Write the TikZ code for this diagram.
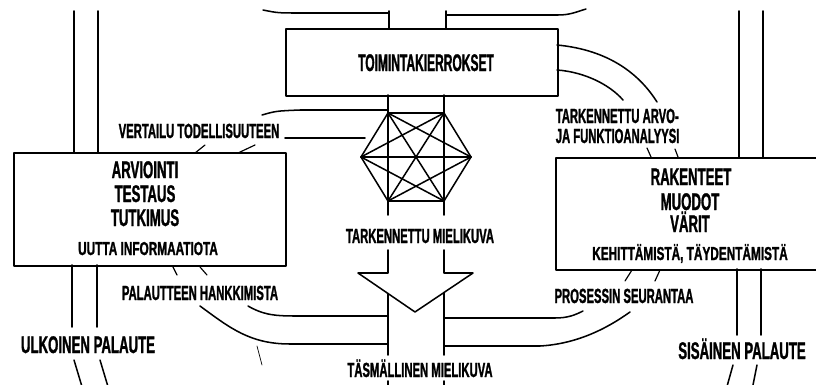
\documentclass[tikz,border=0pt]{standalone}
\usepackage{fontspec}
\newfontfamily\cond[FakeStretch=0.55,FakeBold=1.2]{Liberation Sans Bold}
\newfontfamily\condwide[FakeStretch=0.63,FakeBold=1.2]{Liberation Sans Bold}
\newfontfamily\condtight[FakeStretch=0.5,FakeBold=1.2]{Liberation Sans Bold}
\begin{document}
\begin{tikzpicture}[x=0.3mm,y=-0.3mm,
  line width=1.3pt, line join=round, line cap=round,
  box/.style={draw, rectangle, anchor=north west, inner sep=0pt},
  txtbase/.style={inner sep=0pt, anchor=base},
  bigtxt/.style={txtbase, font=\cond\fontsize{20.5}{24}\selectfont},
  titletxt/.style={txtbase, font=\condtight\fontsize{20.5}{24}\selectfont},
  lbltxt/.style={txtbase, font=\cond\fontsize{17.5}{21}\selectfont},
  smalltxt/.style={txtbase, font=\condwide\fontsize{16}{18}\selectfont},
  tick/.style={line width=1pt}]
\clip (0,0) rectangle (816,385);

% ---------------- boxes ----------------
\node[box, minimum width=272*0.3mm, minimum height=67*0.3mm]  (toim) at (285,28)  {};
\node[box, minimum width=272*0.3mm, minimum height=113*0.3mm] (arv)  at (13,152)  {};
\node[box, minimum width=290*0.3mm, minimum height=112*0.3mm] (rak)  at (555,157) {};

% ---------------- texts ----------------
\node[titletxt] (tToim) at (426,71) {TOIMINTAKIERROKSET};

\node[bigtxt] (tArv)  at (145,178) {ARVIOINTI};
\node[bigtxt] (tTest) at (145,202) {TESTAUS};
\node[bigtxt] (tTutk) at (145,226) {TUTKIMUS};
\node[smalltxt] (tUutta) at (148,255) {UUTTA INFORMAATIOTA};

\node[bigtxt] (tRak)  at (691,185) {RAKENTEET};
\node[bigtxt] (tMuo)  at (690,210) {MUODOT};
\node[bigtxt] (tVar)  at (690,232) {VÄRIT};
\node[smalltxt] (tKeh) at (690,260) {KEHITTÄMISTÄ, TÄYDENTÄMISTÄ};

\node[lbltxt] (tVert) at (199,138) {VERTAILU TODELLISUUTEEN};
\node[lbltxt] (tPal)  at (200,300) {PALAUTTEEN HANKKIMISTA};
\node[bigtxt] (tUlk)  at (88,353)  {ULKOINEN PALAUTE};

\node[lbltxt] (tTark) at (420,243) {TARKENNETTU MIELIKUVA};
\node[lbltxt] (tTasm) at (420,377) {TÄSMÄLLINEN MIELIKUVA};

\node[lbltxt, anchor=base west] (tArvo) at (555,123) {TARKENNETTU ARVO-};
\node[lbltxt, anchor=base west] (tFunk) at (555,143) {JA FUNKTIOANALYYSI};
\node[lbltxt] (tPros) at (624,303) {PROSESSIN SEURANTAA};
\node[bigtxt] (tSis)  at (742,359) {SISÄINEN PALAUTE};

% ---------------- outer feedback roads ----------------
% left (external feedback)
\draw (74,11) -- (74,152);  \draw (98,11) -- (98,152);
\draw (72,265) -- (72,327); \draw (97,265) -- (97,327);
\draw (74,360) -- (83,390); \draw (100,360) -- (109,390);
% right (internal feedback)
\draw (739,11) -- (739,157); \draw (763,11) -- (763,157);
\draw (737,269) -- (737,335); \draw (761,269) -- (761,335);
\draw (733,365) -- (726,390); \draw (757,365) -- (752,390);

% ---------------- central road ----------------
\draw (389,11) -- (389,28); \draw (446,11) -- (446,28);
\draw (263,10) .. controls (278,13) .. (300,13) -- (389,13);
\draw (446,15) -- (558,15) .. controls (570,15) and (576,12) .. (586,9);

\draw (388,95) -- (388,113); \draw (444,95) -- (444,113);

% hexagon with all its diagonals
\coordinate (h1) at (388,113);
\coordinate (h2) at (444,113);
\coordinate (h3) at (471,157);
\coordinate (h4) at (444,201);
\coordinate (h5) at (388,201);
\coordinate (h6) at (361,157);
\foreach \i in {1,...,6}{
  \foreach \j in {1,...,6}{
    \ifnum\i<\j \draw (h\i) -- (h\j); \fi
  }
}

\draw (388,201) -- (388,215); \draw (444,201) -- (444,215);

% big arrow
\coordinate (aTip) at (415,312);
\draw (388,250) -- (388,273) -- (358,273) -- (aTip) -- (473,273) -- (444,273) -- (444,250);
\draw (388,293.5) -- (388,355); \draw (444,292.5) -- (444,355);
\draw (388,381) -- (388,390); \draw (444,381) -- (444,390);

% ---------------- upper-left loop ----------------
\draw (262,115) .. controls (276,111) .. (300,110) -- (388,110);
\draw (285,138) -- (365,138);
\draw[tick] (195,153) -- (205,145);
\draw[tick] (238,153) -- (255,145);

% ---------------- lower-left loop ----------------
\draw[tick] (173,267) -- (177,275);
\draw[tick] (200,267) -- (207,275);
\draw (248,306) .. controls (262,314) and (272,316) .. (295,316) -- (388,316);
\draw (200,306) .. controls (230,328) and (250,344) .. (290,344) -- (388,344);
\draw[line width=0.6pt] (257,346) -- (262,365);

% ---------------- upper-right loop ----------------
\draw (557,45) .. controls (610,50) and (640,75) .. (657,102);
\draw (557,70) .. controls (585,72) and (610,85) .. (623,100);
\draw[tick] (647,148) -- (651,157);
\draw[tick] (675,149) -- (678,157);

% ---------------- lower-right loop ----------------
\draw[tick] (632,270) -- (625,281);
\draw[tick] (660,270) -- (655,281);
\draw (444,318) -- (555,318) .. controls (568,318) and (575,315) .. (583,311);
\draw (444,346) -- (540,346) .. controls (575,344) and (605,330) .. (630,312);
\end{tikzpicture}
\end{document}
